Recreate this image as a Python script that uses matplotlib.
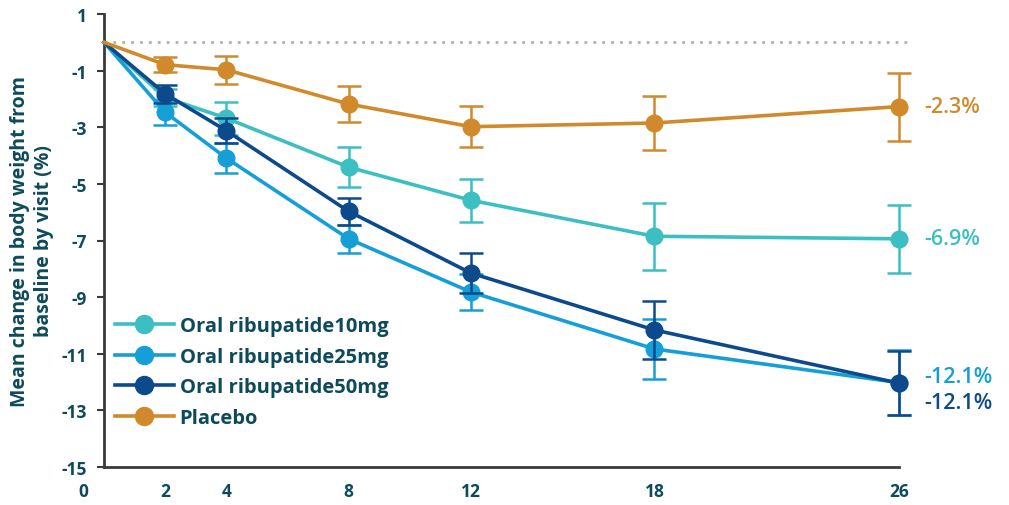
import matplotlib
matplotlib.use("Agg")
import matplotlib.pyplot as plt
import matplotlib.transforms as mtransforms
import numpy as np

plt.rcParams['font.family'] = ['Open Sans', 'DejaVu Sans']

weeks = [0, 2, 4, 8, 12, 18, 26]
tick_labels = ['0', '2', '4', '8', '12', '18', '26']

series_names = ['Oral ribupatide10mg', 'Oral ribupatide25mg', 'Oral ribupatide50mg', 'Placebo']

mean_10mg = [0, -1.95, -2.68, -4.41, -5.58, -6.85, -6.94]
err_10mg = [0, 0.30, 0.58, 0.71, 0.76, 1.18, 1.20]

mean_25mg = [0, -2.47, -4.09, -6.94, -8.82, -10.83, -12.02]
err_25mg = [0, 0.44, 0.52, 0.50, 0.65, 1.05, 1.15]

mean_50mg = [0, -1.82, -3.12, -5.97, -8.15, -10.16, -12.04]
err_50mg = [0, 0.32, 0.45, 0.48, 0.70, 1.02, 1.12]

mean_placebo = [0, -0.79, -0.97, -2.18, -2.98, -2.85, -2.27]
err_placebo = [0, 0.27, 0.50, 0.62, 0.72, 0.95, 1.20]

end_labels = ['-6.9%', '-12.1%', '-12.1%', '-2.3%']

colors = ['#3cbfc2', '#169fd6', '#0d4a8c', '#d08a2c']
text_color = '#0d4a5b'

means = {0: mean_10mg, 1: mean_25mg, 2: mean_50mg, 3: mean_placebo}
errs = {0: err_10mg, 1: err_25mg, 2: err_50mg, 3: err_placebo}

fig = plt.figure(figsize=(10.09, 5.06), dpi=100)
ax = fig.add_axes([104/1009, 1-468/506, 795/1009, 453/506])

ax.axhline(0, color='#b0b0b0', linestyle=(0, (1, 2.2)), linewidth=2, zorder=1,
           xmin=0, xmax=1.01, clip_on=False)

handles = {}
for idx in [3, 0, 1, 2]:
    m = means[idx]
    e = errs[idx]
    c = colors[idx]
    ax.errorbar(weeks[1:], m[1:], yerr=e[1:], fmt='none', ecolor=c, elinewidth=1.8,
                capsize=8.3, capthick=1.8, zorder=3 + idx, clip_on=False)
    ax.plot(weeks, m, color=c, linewidth=2.6, zorder=3 + idx, clip_on=False)
    ax.plot(weeks[1:], m[1:], 'o', color=c, markersize=12, zorder=3 + idx, clip_on=False)
    h, = ax.plot([], [], '-o', color=c, linewidth=2.6, markersize=13, label=series_names[idx])
    handles[idx] = h

# end labels (vertical nudges in points keep the two -12.1% labels apart)
label_nudge = {0: 0, 1: 4.5, 2: -14, 3: 0}
for idx in range(4):
    m = means[idx]
    ax.annotate(end_labels[idx], xy=(weeks[-1], m[-1]),
                xytext=(18.5, label_nudge[idx]), textcoords='offset points', va='center', ha='left',
                color=colors[idx], fontsize=15.5, fontweight='semibold', annotation_clip=False)

ax.set_xlim(0, 26)
ax.set_ylim(-15, 1)
yt = np.arange(1, -16, -2)
ax.set_yticks(yt)
ax.set_yticklabels([str(v) for v in yt])
ax.set_xticks(weeks)
ax.set_xticklabels(tick_labels)

for s in ['top', 'right']:
    ax.spines[s].set_visible(False)
for s in ['left', 'bottom']:
    ax.spines[s].set_color('#3a3a3a')
    ax.spines[s].set_linewidth(2)

ax.tick_params(axis='y', length=5, width=1.5, color='#3a3a3a', pad=7,
               labelsize=12.5, labelcolor=text_color)
ax.tick_params(axis='x', length=0, pad=11, labelsize=12.5, labelcolor=text_color)
for lab in ax.get_xticklabels() + ax.get_yticklabels():
    lab.set_fontweight('bold')

# shift the "0" label left as in the original
first = ax.get_xticklabels()[0]
first.set_transform(first.get_transform() + mtransforms.ScaledTranslation(-21/100, 0, fig.dpi_scale_trans))

ax.set_ylabel('Mean change in body weight from\nbaseline by visit (%)', fontsize=14,
              fontweight='bold', color=text_color, linespacing=1.25, labelpad=6)

leg = ax.legend(handles=[handles[0], handles[1], handles[2], handles[3]],
                loc='upper left', bbox_to_anchor=(0.014, 0.334), frameon=False,
                borderaxespad=0, borderpad=0,
                handlelength=2.9, handletextpad=0.3, labelspacing=0.54,
                prop={'size': 14.5, 'weight': 'bold'})
for t in leg.get_texts():
    t.set_color(text_color)

fig.savefig('out.png', dpi=100)
